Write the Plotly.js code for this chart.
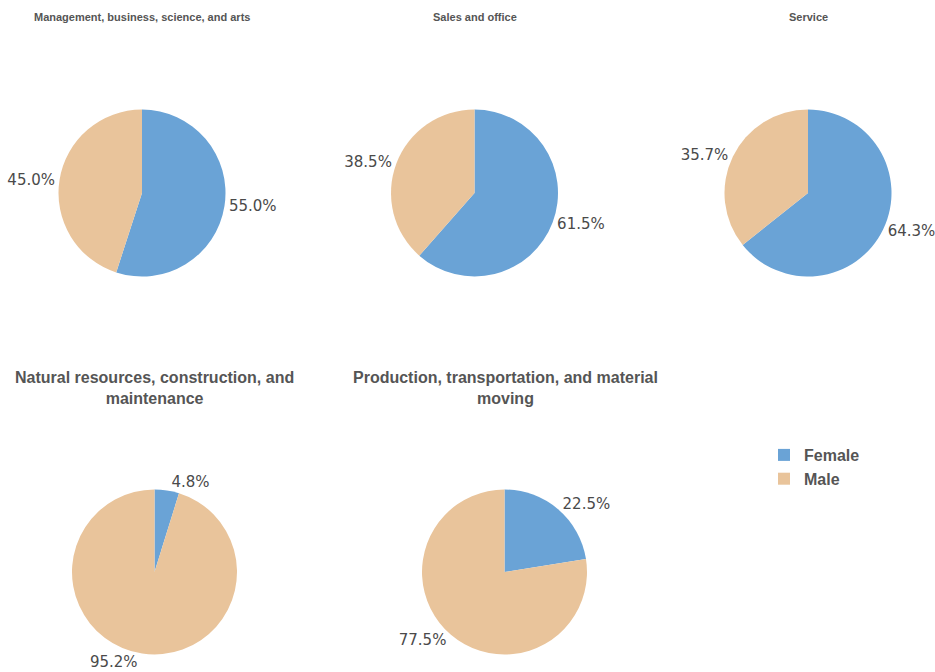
<!DOCTYPE html>
<html><head><meta charset="utf-8">
<script src="https://cdn.plot.ly/plotly-3.0.1.min.js"></script>
<style>html,body{margin:0;padding:0;background:#fff}#chart{width:935px;height:672px}</style>
</head><body><div id="chart"></div>
<script>
const categories = ["Management, business, science, and arts","Sales and office","Service","Natural resources, construction, and<br>maintenance","Production, transportation, and material<br>moving"];
const labels = ["Female","Male"];
const female = [55.0, 61.5, 64.3, 4.8, 22.5];
const male = [45.0, 38.5, 35.7, 95.2, 77.5];
const colors = ["#6aa3d6","#e9c49b"];

const W = 935, H = 672;
// pie centers and radius in pixels
const centers = [[142,193,83.5],[474.5,193,83.5],[808,193,83.5],[154.5,572,82.5],[504.5,572,82.5]];
const traces = [];
const annotations = [];
categories.forEach((c,i)=>{
  const [cx,cy,r] = centers[i];
  traces.push({
    type:'pie', labels:labels, values:[female[i], male[i]],
    sort:false, direction:'clockwise', rotation:0,
    marker:{colors:colors, line:{width:0}},
    textposition:'outside', texttemplate:'%{value:.1f}%',
    textfont:{family:'DejaVu Sans, sans-serif', size:15, color:'#4a4a4a'},
    hoverinfo:'label+percent',
    domain:{x:[(cx-r)/W,(cx+r)/W], y:[1-(cy+r)/H, 1-(cy-r)/H]},
    automargin:false
  });
});
const titleFont = {family:'Liberation Sans, Arial, sans-serif', color:'#555'};
[[0,142,17,11],[1,475,17,11],[2,808,17,11]].forEach(([i,x,y,s])=>{
  annotations.push({text:'<b>'+categories[i]+'</b>', x:x/W, y:1-y/H, xref:'paper', yref:'paper', showarrow:false, xanchor:'center', yanchor:'middle', font:Object.assign({size:s},titleFont)});
});
[[3,154,388],[4,505,388]].forEach(([i,x,y])=>{
  annotations.push({text:'<b>'+categories[i]+'</b>', x:x/W, y:1-y/H, xref:'paper', yref:'paper', showarrow:false, xanchor:'center', yanchor:'middle', align:'center', font:Object.assign({size:16},titleFont)});
});
Plotly.newPlot('chart', traces, {
  width:W, height:H, margin:{l:0,r:0,t:0,b:0},
  paper_bgcolor:'#fff', plot_bgcolor:'#fff',
  showlegend:true,
  legend:{x:764/W, y:1-438/H, xanchor:'left', yanchor:'top', font:{family:'Liberation Sans, Arial, sans-serif', size:16, color:'#555', weight:'bold'}, itemsizing:'constant', tracegroupgap:0},
  annotations:annotations
}, {displayModeBar:false});
</script></body></html>
